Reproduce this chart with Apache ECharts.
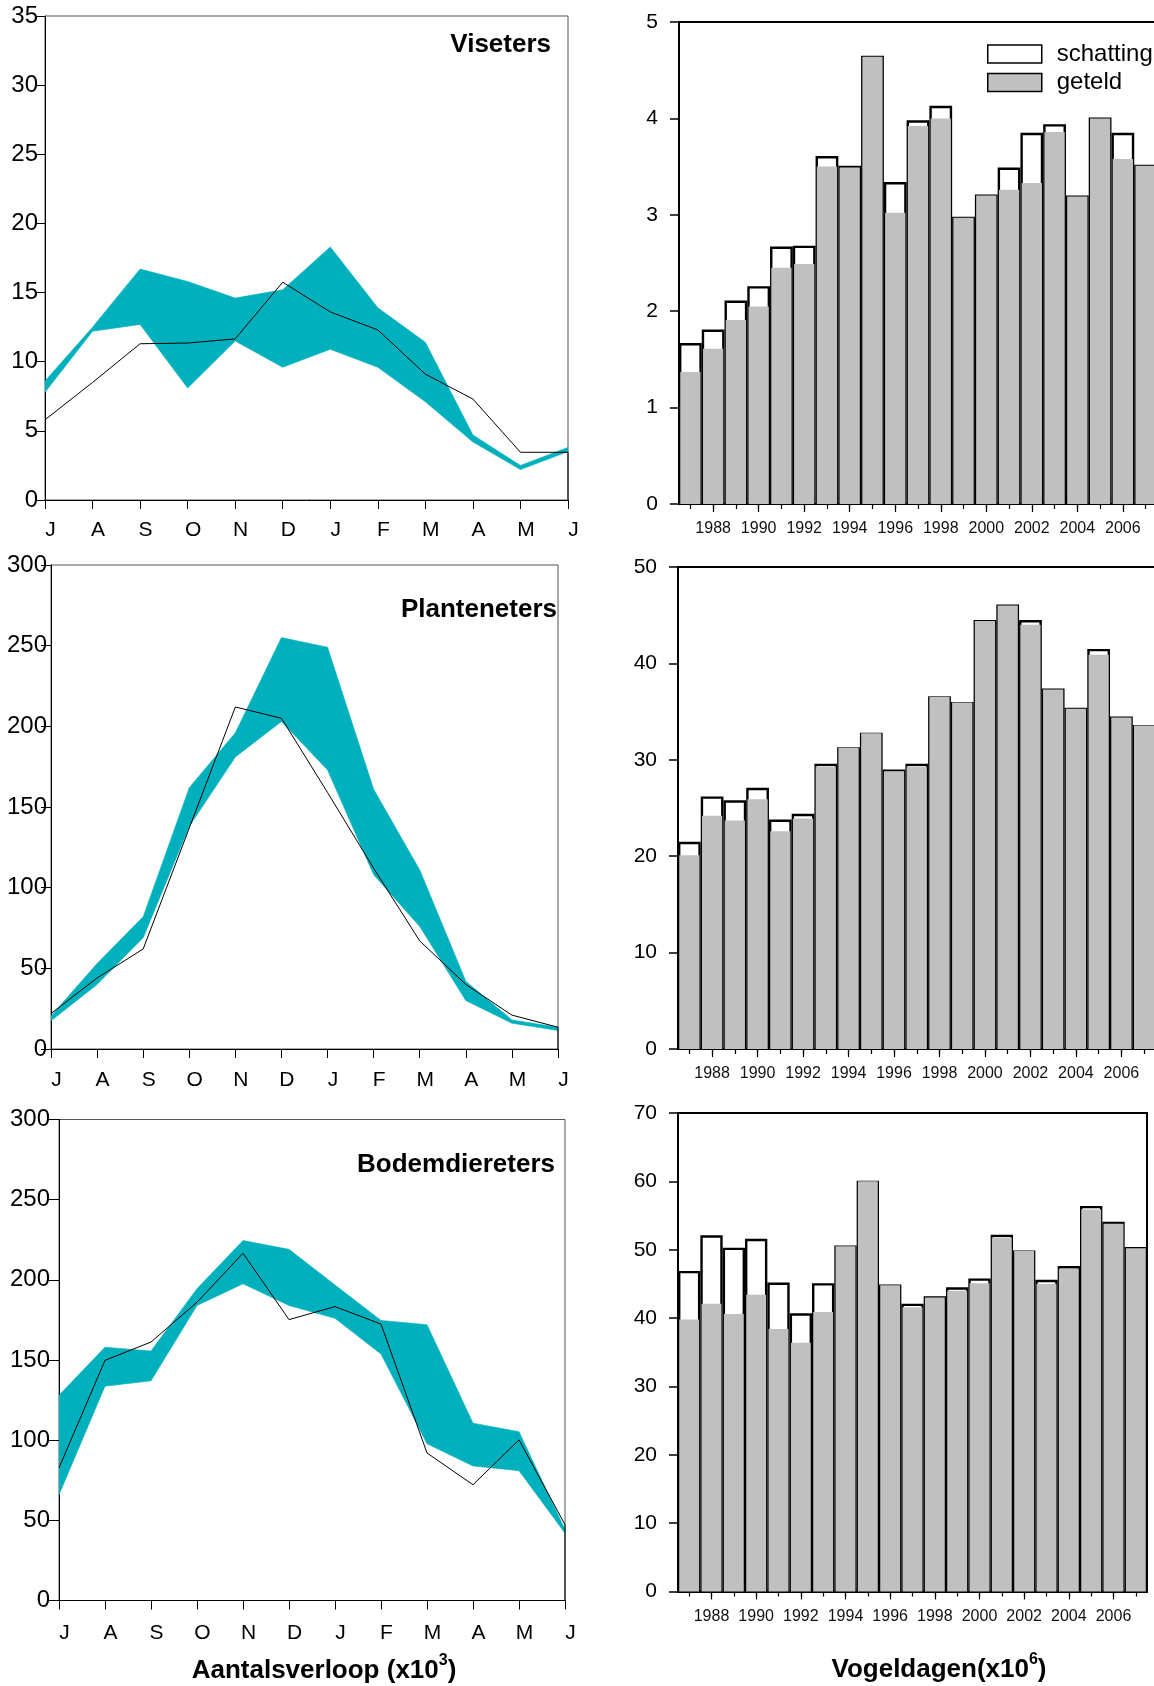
<!DOCTYPE html>
<html>
<head>
<meta charset="utf-8">
<script src="https://cdn.jsdelivr.net/npm/echarts@6/dist/echarts.min.js"></script>
<style>
html,body{margin:0;padding:0;background:#fff;}
#c{width:1154px;height:1686px;}
</style>
</head>
<body>
<div id="c"></div>
<script>
// ---------- DATA ----------
const months = ['J','A','S','O','N','D','J','F','M','A','M','J'];

const visUpper   = [8.6, 12.5, 16.7, 15.8, 14.6, 15.2, 18.3, 13.9, 11.4, 4.7, 2.5, 3.8];
const visLower   = [7.8, 12.2, 12.7, 8.1, 11.5, 9.6, 10.9, 9.6, 7.1, 4.2, 2.2, 3.5];
const visLine    = [5.8, 8.5, 11.3, 11.35, 11.65, 15.75, 13.6, 12.3, 9.1, 7.3, 3.45, 3.45];

const plantUpper = [20.5, 53, 82, 162, 196, 255, 249, 161, 111, 42, 18, 13.5];
const plantLower = [17.5, 40, 69, 138, 181, 203, 173, 108, 76, 30, 16, 11.5];
const plantLine  = [22, 44, 62, 137, 212, 205, 159, 112, 67, 40, 21, 13.5];

const bodemUpper = [128, 158, 155.6, 194.5, 224.5, 219, 196.8, 174.7, 172, 110.6, 105.3, 44.3];
const bodemLower = [66, 133.7, 137, 184, 197.5, 184, 176, 153.7, 97.8, 83.9, 81, 42];
const bodemLine  = [82.7, 149.8, 161.2, 186, 216.6, 175.2, 183.3, 172.4, 92, 72.2, 100.2, 47.3];

const years = ['1987','1988','1989','1990','1991','1992','1993','1994','1995','1996','1997',
               '1998','1999','2000','2001','2002','2003','2004','2005','2006','2007'];

const visSchatting   = [1.67,1.81,2.11,2.26,2.67,2.68,3.61,3.51,4.65,3.34,3.98,4.13,2.98,3.21,3.49,3.85,3.94,3.20,4.01,3.85,3.52];
const visGeteld      = [1.37,1.61,1.91,2.05,2.45,2.49,3.50,3.49,4.64,3.02,3.92,4.00,2.97,3.20,3.26,3.33,3.86,3.19,4.00,3.58,3.51];

const plantSchatting = [21.5,26.2,25.8,27.1,23.8,24.4,29.6,31.3,32.8,29.0,29.6,36.6,36.0,44.5,46.1,44.5,37.4,35.4,41.5,34.5,33.6];
const plantGeteld    = [20.1,24.2,23.7,25.9,22.6,23.9,29.3,31.25,32.75,28.8,29.3,36.55,35.95,44.4,46.0,44.0,37.3,35.3,40.9,34.4,33.55];

const bodemSchatting = [46.9,52.1,50.3,51.6,45.2,40.7,45.1,50.6,60.1,44.9,42.1,43.2,44.5,45.8,52.2,49.9,45.6,47.6,56.4,54.1,50.4];
const bodemGeteld    = [39.8,42.1,40.6,43.4,38.4,36.4,40.9,50.5,60.0,44.8,41.6,43.0,44.0,45.1,51.8,49.8,45.0,47.2,55.9,53.8,50.2];

// ---------- STYLE ----------
const FONT = '"Liberation Sans", Arial, Helvetica, sans-serif';
const TEAL = '#00B0BC';
const GRAY = '#c0c0c0';

const chart = echarts.init(document.getElementById('c'), null, {renderer: 'canvas'});

const grids = [], xAxes = [], yAxes = [], series = [];

function bandRenderer(upper, lower) {
  return function (params, api) {
    if (params.dataIndex !== 0) return null;
    const pts = [];
    for (let i = 0; i < upper.length; i++) pts.push(api.coord([i, upper[i]]));
    for (let i = lower.length - 1; i >= 0; i--) pts.push(api.coord([i, lower[i]]));
    return {type: 'polygon', shape: {points: pts}, style: {fill: TEAL, stroke: TEAL, lineWidth: 0.6}};
  };
}

function addSeasonChart(box, yMax, yInt, upper, lower, line, labelMargin, monthMargin) {
  const gi = grids.length;
  grids.push(Object.assign({show: true, borderColor: '#555', borderWidth: 1,
    backgroundColor: 'transparent', containLabel: false, outerBoundsMode: 'none'}, box));
  const xi = xAxes.length;
  xAxes.push({
    gridIndex: gi, type: 'value', min: 0, max: 11, interval: 1, position: 'bottom', offset: 4,
    axisLine: {show: true, lineStyle: {color: '#000', width: 1}},
    axisTick: {show: true, length: 9, lineStyle: {color: '#000', width: 1}},
    axisLabel: {show: true, formatter: v => months[v] || '', fontSize: 21, color: '#000',
      fontFamily: FONT, margin: monthMargin, padding: [0, 0, 0, 11], showMinLabel: true, showMaxLabel: true},
    splitLine: {show: false}
  });
  const yi = yAxes.length;
  yAxes.push({
    gridIndex: gi, type: 'value', min: 0, max: yMax, interval: yInt,
    axisLine: {show: true, lineStyle: {color: '#000', width: 1}},
    axisTick: {show: true, length: 10, lineStyle: {color: '#000', width: 1}},
    axisLabel: {show: true, fontSize: 24, color: '#000', fontFamily: FONT, margin: labelMargin},
    splitLine: {show: false}
  });
  series.push({
    type: 'custom', xAxisIndex: xi, yAxisIndex: yi, data: [[0, 0]],
    renderItem: bandRenderer(upper, lower), clip: true, silent: true, z: 2
  });
  const lineData = line.map((v, i) => [i, v]);
  lineData.push([line.length - 1, 0]); // closing drop to the baseline, as in the original
  series.push({
    type: 'line', xAxisIndex: xi, yAxisIndex: yi, data: lineData, symbol: 'none',
    lineStyle: {color: '#000', width: 1}, silent: true, z: 3
  });
}

function addBarChart(box, yMax, yInt, schatting, geteld) {
  const gi = grids.length;
  grids.push(Object.assign({show: true, borderColor: '#000', borderWidth: 2,
    backgroundColor: 'transparent', containLabel: false, outerBoundsMode: 'none'}, box));
  const xa = xAxes.length;
  xAxes.push({
    gridIndex: gi, type: 'category', data: years, position: 'bottom', boundaryGap: true,
    axisLine: {show: true, lineStyle: {color: '#000', width: 2}},
    axisTick: {show: true, alignWithLabel: true, interval: 0, length: 5, lineStyle: {color: '#000', width: 1.2}},
    axisLabel: {show: true, interval: (i) => i % 2 === 1, fontSize: 16, color: '#111',
      fontFamily: FONT, margin: 17},
    splitLine: {show: false}
  });
  const xb = xAxes.length;
  xAxes.push({gridIndex: gi, type: 'category', data: years, position: 'bottom', show: false});
  xAxes.push({
    gridIndex: gi, type: 'category', data: years, position: 'bottom', boundaryGap: true,
    axisLine: {show: false},
    axisTick: {show: true, alignWithLabel: true, interval: (i) => i % 2 === 1, length: 8,
      lineStyle: {color: '#000', width: 1.2}},
    axisLabel: {show: false}, splitLine: {show: false}
  });
  const yi = yAxes.length;
  yAxes.push({
    gridIndex: gi, type: 'value', min: 0, max: yMax, interval: yInt,
    axisLine: {show: true, lineStyle: {color: '#000', width: 2}},
    axisTick: {show: true, length: 9, lineStyle: {color: '#000', width: 1.5}},
    axisLabel: {show: true, fontSize: 21, color: '#000', fontFamily: FONT, margin: 21},
    splitLine: {show: false}
  });
  series.push({
    type: 'bar', name: 'schatting', xAxisIndex: xa, yAxisIndex: yi, data: schatting,
    barWidth: '100%', barCategoryGap: '0%',
    itemStyle: {color: '#fff', borderColor: '#000', borderWidth: 2.4}, silent: true, z: 2
  });
  series.push({
    type: 'bar', name: 'geteld', xAxisIndex: xb, yAxisIndex: yi, data: geteld,
    barWidth: '89%',
    itemStyle: {color: GRAY, borderWidth: 0}, silent: true, z: 3
  });
}

// left column: seasonal pattern
addSeasonChart({left: 45, top: 16, width: 523, height: 484}, 35, 5, visUpper, visLower, visLine, 7, 16);
addSeasonChart({left: 51, top: 565, width: 507, height: 484}, 300, 50, plantUpper, plantLower, plantLine, 4, 17);
addSeasonChart({left: 59, top: 1119.5, width: 506, height: 481}, 300, 50, bodemUpper, bodemLower, bodemLine, 9, 18);

// right column: yearly bird-days
addBarChart({left: 679, top: 22, width: 478, height: 482}, 5, 1, visSchatting, visGeteld);
addBarChart({left: 678, top: 567, width: 477.5, height: 482}, 50, 10, plantSchatting, plantGeteld);
addBarChart({left: 678, top: 1113, width: 469, height: 478.5}, 70, 10, bodemSchatting, bodemGeteld);

const option = {
  animation: false,
  backgroundColor: '#fff',
  textStyle: {fontFamily: FONT},
  grid: grids,
  xAxis: xAxes,
  yAxis: yAxes,
  series: series,
  legend: {
    show: true, orient: 'vertical', left: 987, top: 42, padding: 0,
    itemWidth: 54, itemHeight: 18, itemGap: 4.5, icon: 'rect', selectedMode: false,
    textStyle: {fontSize: 24, color: '#000', fontFamily: FONT, padding: [0, 0, 0, 10]},
    data: [
      {name: 'schatting', itemStyle: {color: '#fff', borderColor: '#000', borderWidth: 1.5}},
      {name: 'geteld', itemStyle: {color: GRAY, borderColor: '#000', borderWidth: 1.5}}
    ]
  },
  graphic: [
    {type: 'text', x: 551, y: 45, style: {text: 'Viseters', fontSize: 26, fontWeight: 'bold', fontFamily: FONT, fill: '#000', align: 'right', verticalAlign: 'middle'}},
    {type: 'text', x: 557, y: 610, style: {text: 'Planteneters', fontSize: 26, fontWeight: 'bold', fontFamily: FONT, fill: '#000', align: 'right', verticalAlign: 'middle'}},
    {type: 'text', x: 555, y: 1165, style: {text: 'Bodemdiereters', fontSize: 26, fontWeight: 'bold', fontFamily: FONT, fill: '#000', align: 'right', verticalAlign: 'middle'}},
    {type: 'text', x: 324, y: 1671, style: {
      text: '{a|Aantalsverloop (x10}{s|3}{a|)}', align: 'center', verticalAlign: 'middle',
      rich: {
        a: {fontSize: 26, fontWeight: 'bold', fontFamily: FONT, fill: '#000', lineHeight: 36},
        s: {fontSize: 16, fontWeight: 'bold', fontFamily: FONT, fill: '#000', verticalAlign: 'top', lineHeight: 16}
      }}},
    {type: 'text', x: 939, y: 1670, style: {
      text: '{a|Vogeldagen(x10}{s|6}{a|)}', align: 'center', verticalAlign: 'middle',
      rich: {
        a: {fontSize: 26, fontWeight: 'bold', fontFamily: FONT, fill: '#000', lineHeight: 36},
        s: {fontSize: 16, fontWeight: 'bold', fontFamily: FONT, fill: '#000', verticalAlign: 'top', lineHeight: 16}
      }}}
  ]
};
chart.setOption(option);
</script>
</body>
</html>
